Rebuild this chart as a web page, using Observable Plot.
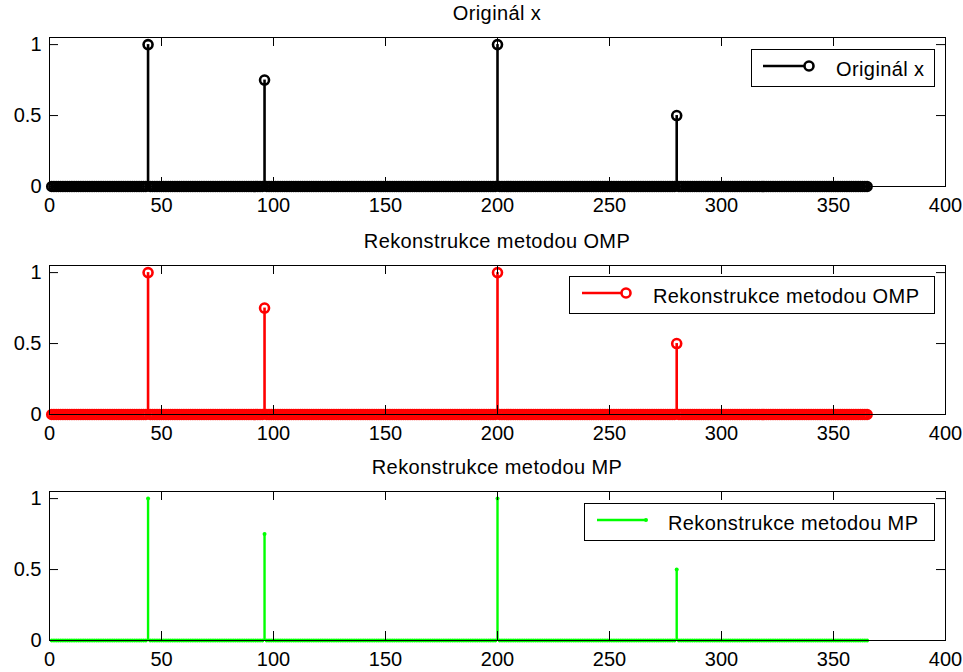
<!DOCTYPE html>
<html>
<head>
<meta charset="utf-8">
<script src="https://cdn.jsdelivr.net/npm/d3@7"></script>
<script src="https://cdn.jsdelivr.net/npm/@observablehq/plot@0.6"></script>
<style>
  html, body { margin: 0; padding: 0; background: white; overflow: hidden; }
  #root { position: relative; width: 963px; height: 672px; overflow: hidden; background: white;
          font-family: "Liberation Sans", Arial, sans-serif; }
  .panel { position: absolute; left: 0; }
  .title { position: absolute; left: 0; width: 994px; text-align: center; font-size: 20px; line-height: 20px; color: #000; letter-spacing: 0.4px; }
  .legend { position: absolute; overflow: visible; }
</style>
</head>
<body>
<div id="root"></div>
<script>
// ---- data ----
const sampleCount = 365;                  // samples 1..365
const spikePositions = [44, 96, 200, 280];
const originalValues = [1, 0.75, 1, 0.5];
const ompValues      = [1, 0.75, 1, 0.5];
const mpValues       = [1, 0.75, 1, 0.5];
const xTicks = [0, 50, 100, 150, 200, 250, 300, 350, 400];
const yTicks = [0, 0.5, 1];
const titles = ["Originál x", "Rekonstrukce metodou OMP", "Rekonstrukce metodou MP"];
const legendLabels = ["Originál x", "Rekonstrukce metodou OMP", "Rekonstrukce metodou MP"];
const colors = ["#000000", "#ff0000", "#00ff00"];

function signal(values) {
  return d3.range(1, sampleCount + 1).map(i => {
    const k = spikePositions.indexOf(i);
    return {x: i, y: k >= 0 ? values[k] : 0};
  });
}

const root = document.getElementById("root");
const FONT = "'Liberation Sans', Arial, sans-serif";

function panel(values, color, kind, top, height, marginBottom) {
  const data = signal(values);
  const frameH = height - 37 - marginBottom;
  const frameW = 963 - 49 - 18;
  const dotMark = kind === "circle"
    ? Plot.dot(data, {x: "x", y: "y", r: 4.5, stroke: color, strokeWidth: 2.6, fill: "none"})
    : Plot.dot(data, {x: "x", y: "y", r: 2, fill: color, stroke: "none"});
  const svg = Plot.plot({
    width: 963, height,
    marginLeft: 49, marginRight: 18, marginTop: 37, marginBottom,
    x: {domain: [0, 400], label: null},
    y: {domain: [0, 1.05], label: null},
    style: {fontFamily: FONT, fontSize: "20px", background: "white", overflow: "visible", color: "black"},
    marks: [
      Plot.ruleX(data, {x: "x", y1: 0, y2: "y", stroke: color, strokeWidth: kind === "circle" ? 2.6 : 2.4}),
      dotMark,
      Plot.tickX(xTicks, {x: d => d, insetTop: frameH - 9, stroke: "black"}),
      Plot.tickX(xTicks, {x: d => d, insetBottom: frameH - 9, stroke: "black"}),
      Plot.tickY(yTicks, {y: d => d, insetRight: frameW - 9, stroke: "black"}),
      Plot.tickY(yTicks, {y: d => d, insetLeft: frameW - 9, stroke: "black"}),
      Plot.axisX(xTicks, {tickSize: 0, tickPadding: 11, fontSize: 20, tickFormat: d => String(d), fill: "black"}),
      Plot.axisY(yTicks, {tickSize: 0, tickPadding: 8, fontSize: 20, tickFormat: d => String(d), fill: "black"}),
      Plot.frame({stroke: "black", strokeWidth: 1})
    ]
  });
  svg.classList.add("panel");
  svg.style.top = top + "px";
  root.appendChild(svg);
}

panel(originalValues, colors[0], "circle", 0, 228, 42);
panel(ompValues, colors[1], "circle", 228, 228, 42);
panel(mpValues, colors[2], "point", 454, 218, 32);

// titles
const titleTops = [3, 231, 457];
titles.forEach((t, i) => {
  const d = document.createElement("div");
  d.className = "title";
  d.style.top = titleTops[i] + "px";
  d.textContent = t;
  root.appendChild(d);
});

// legends
const legendBoxes = [
  {left: 751, top: 49, width: 184, lineX1: 12, lineX2: 59},
  {left: 569, top: 276, width: 366, lineX1: 13, lineX2: 58},
  {left: 584, top: 503, width: 351, lineX1: 13, lineX2: 62}
];
const NS = "http://www.w3.org/2000/svg";
legendBoxes.forEach((b, i) => {
  const s = document.createElementNS(NS, "svg");
  s.setAttribute("class", "legend");
  s.setAttribute("width", b.width);
  s.setAttribute("height", 38);
  s.style.left = b.left + "px";
  s.style.top = b.top + "px";
  const rect = document.createElementNS(NS, "rect");
  rect.setAttribute("x", 0.5); rect.setAttribute("y", 0.5);
  rect.setAttribute("width", b.width - 1); rect.setAttribute("height", 37);
  rect.setAttribute("fill", "white"); rect.setAttribute("stroke", "black");
  s.appendChild(rect);
  const line = document.createElementNS(NS, "line");
  line.setAttribute("x1", b.lineX1); line.setAttribute("x2", b.lineX2);
  line.setAttribute("y1", 17); line.setAttribute("y2", 17);
  line.setAttribute("stroke", colors[i]); line.setAttribute("stroke-width", 2.5);
  s.appendChild(line);
  const c = document.createElementNS(NS, "circle");
  if (i < 2) {
    c.setAttribute("cx", b.lineX2 - 1); c.setAttribute("cy", 17); c.setAttribute("r", 4.5);
    c.setAttribute("fill", "white"); c.setAttribute("stroke", colors[i]); c.setAttribute("stroke-width", 2.6);
  } else {
    c.setAttribute("cx", b.lineX2); c.setAttribute("cy", 17); c.setAttribute("r", 2);
    c.setAttribute("fill", colors[i]);
  }
  s.appendChild(c);
  const t = document.createElementNS(NS, "text");
  t.setAttribute("x", 84 + (i === 0 ? 1 : 0)); t.setAttribute("y", 27);
  t.setAttribute("font-family", FONT); t.setAttribute("font-size", 20);
  t.setAttribute("letter-spacing", "0.4");
  t.setAttribute("fill", "black");
  t.textContent = legendLabels[i];
  s.appendChild(t);
  root.appendChild(s);
});
</script>
</body>
</html>
